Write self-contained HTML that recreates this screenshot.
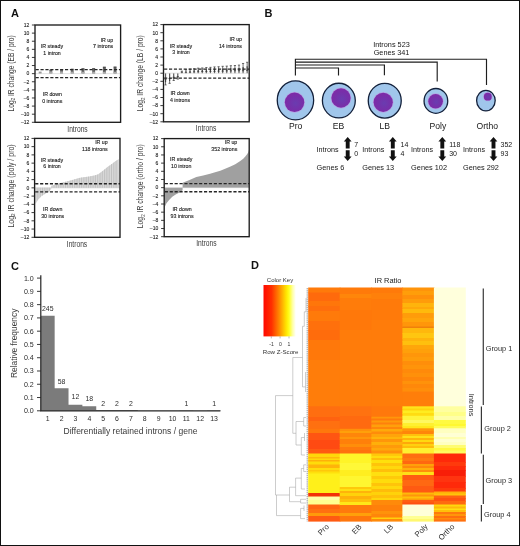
<!DOCTYPE html>
<html><head><meta charset="utf-8"><title>Figure</title>
<style>
html,body{margin:0;padding:0;background:#fff;}
body{width:520px;height:546px;overflow:hidden;font-family:'Liberation Sans', sans-serif;}
svg{display:block;font-family:"Liberation Sans",sans-serif;will-change:transform;}
</style></head><body>
<svg width="520" height="546" viewBox="0 0 520 546">
<rect width="520" height="546" fill="#fff"/>
<rect x="38.70" y="71.62" width="2.9" height="2.03" fill="#9a9a9a"/>
<rect x="49.40" y="69.80" width="2.9" height="3.85" fill="#858585"/>
<rect x="49.40" y="71.83" width="2.9" height="1.82" fill="#a8a8a8"/>
<path d="M49.40 70.29h2.9" stroke="#3c3c3c" stroke-width="0.6" fill="none"/>
<rect x="60.10" y="69.60" width="2.9" height="4.05" fill="#808080"/>
<rect x="60.10" y="71.83" width="2.9" height="1.82" fill="#a8a8a8"/>
<path d="M60.10 70.08h2.9" stroke="#3c3c3c" stroke-width="0.6" fill="none"/>
<rect x="70.80" y="68.79" width="2.9" height="4.86" fill="#6e6e6e"/>
<rect x="70.80" y="71.83" width="2.9" height="1.82" fill="#a8a8a8"/>
<path d="M70.80 69.27h2.9" stroke="#3c3c3c" stroke-width="0.6" fill="none"/>
<rect x="81.50" y="68.30" width="2.9" height="5.35" fill="#666"/>
<rect x="81.50" y="71.83" width="2.9" height="1.82" fill="#a8a8a8"/>
<path d="M81.50 68.79h2.9" stroke="#3c3c3c" stroke-width="0.6" fill="none"/>
<rect x="92.20" y="68.18" width="2.9" height="5.47" fill="#666"/>
<rect x="92.20" y="71.83" width="2.9" height="1.82" fill="#a8a8a8"/>
<path d="M92.20 68.66h2.9" stroke="#3c3c3c" stroke-width="0.6" fill="none"/>
<rect x="102.90" y="66.76" width="2.9" height="6.89" fill="#5e5e5e"/>
<rect x="102.90" y="71.83" width="2.9" height="1.82" fill="#a8a8a8"/>
<path d="M102.90 67.24h2.9" stroke="#3c3c3c" stroke-width="0.6" fill="none"/>
<rect x="113.60" y="66.64" width="2.9" height="7.01" fill="#5e5e5e"/>
<rect x="113.60" y="71.83" width="2.9" height="1.82" fill="#a8a8a8"/>
<path d="M113.60 67.12h2.9" stroke="#3c3c3c" stroke-width="0.6" fill="none"/>
<path d="M35.0 73.65H120.6" stroke="#c4c4c4" stroke-width="0.5"/>
<path d="M35.6 69.60H120.6" stroke="#262626" stroke-width="1.3" stroke-dasharray="3.15 1.75"/>
<path d="M35.6 77.70H120.6" stroke="#262626" stroke-width="1.3" stroke-dasharray="3.15 1.75"/>
<rect x="35.0" y="25.0" width="85.60" height="97.30" fill="none" stroke="#1c1c1c" stroke-width="1.35"/>
<path d="M31.90 122.30H35.0" stroke="#242424" stroke-width="0.9"/>
<text transform="translate(29.40,124.10)" font-size="5.0" text-anchor="end" font-weight="normal" fill="#222" stroke="#222" stroke-width="0.1">–12</text>
<path d="M31.90 114.19H35.0" stroke="#242424" stroke-width="0.9"/>
<text transform="translate(29.40,115.99)" font-size="5.0" text-anchor="end" font-weight="normal" fill="#222" stroke="#222" stroke-width="0.1">–10</text>
<path d="M31.90 106.08H35.0" stroke="#242424" stroke-width="0.9"/>
<text transform="translate(29.40,107.88)" font-size="5.0" text-anchor="end" font-weight="normal" fill="#222" stroke="#222" stroke-width="0.1">–8</text>
<path d="M31.90 97.97H35.0" stroke="#242424" stroke-width="0.9"/>
<text transform="translate(29.40,99.77)" font-size="5.0" text-anchor="end" font-weight="normal" fill="#222" stroke="#222" stroke-width="0.1">–6</text>
<path d="M31.90 89.87H35.0" stroke="#242424" stroke-width="0.9"/>
<text transform="translate(29.40,91.67)" font-size="5.0" text-anchor="end" font-weight="normal" fill="#222" stroke="#222" stroke-width="0.1">–4</text>
<path d="M31.90 81.76H35.0" stroke="#242424" stroke-width="0.9"/>
<text transform="translate(29.40,83.56)" font-size="5.0" text-anchor="end" font-weight="normal" fill="#222" stroke="#222" stroke-width="0.1">–2</text>
<path d="M31.90 73.65H35.0" stroke="#242424" stroke-width="0.9"/>
<text transform="translate(29.40,75.45)" font-size="5.0" text-anchor="end" font-weight="normal" fill="#222" stroke="#222" stroke-width="0.1">0</text>
<path d="M31.90 65.54H35.0" stroke="#242424" stroke-width="0.9"/>
<text transform="translate(29.40,67.34)" font-size="5.0" text-anchor="end" font-weight="normal" fill="#222" stroke="#222" stroke-width="0.1">2</text>
<path d="M31.90 57.43H35.0" stroke="#242424" stroke-width="0.9"/>
<text transform="translate(29.40,59.23)" font-size="5.0" text-anchor="end" font-weight="normal" fill="#222" stroke="#222" stroke-width="0.1">4</text>
<path d="M31.90 49.33H35.0" stroke="#242424" stroke-width="0.9"/>
<text transform="translate(29.40,51.13)" font-size="5.0" text-anchor="end" font-weight="normal" fill="#222" stroke="#222" stroke-width="0.1">6</text>
<path d="M31.90 41.22H35.0" stroke="#242424" stroke-width="0.9"/>
<text transform="translate(29.40,43.02)" font-size="5.0" text-anchor="end" font-weight="normal" fill="#222" stroke="#222" stroke-width="0.1">8</text>
<path d="M31.90 33.11H35.0" stroke="#242424" stroke-width="0.9"/>
<text transform="translate(29.40,34.91)" font-size="5.0" text-anchor="end" font-weight="normal" fill="#222" stroke="#222" stroke-width="0.1">10</text>
<path d="M31.90 25.00H35.0" stroke="#242424" stroke-width="0.9"/>
<text transform="translate(29.40,26.80)" font-size="5.0" text-anchor="end" font-weight="normal" fill="#222" stroke="#222" stroke-width="0.1">12</text>
<text transform="translate(77.50,131.50) scale(0.8177,1)" font-size="8.2" text-anchor="middle" font-weight="normal" fill="#3a3a3a" >Introns</text>
<text transform="translate(113.20,41.50)" font-size="5.25" text-anchor="end" font-weight="normal" fill="#1c1c1c" stroke="#1c1c1c" stroke-width="0.12">IR up</text>
<text transform="translate(113.20,47.90)" font-size="5.25" text-anchor="end" font-weight="normal" fill="#1c1c1c" stroke="#1c1c1c" stroke-width="0.12">7 introns</text>
<text transform="translate(52.00,48.10)" font-size="5.25" text-anchor="middle" font-weight="normal" fill="#1c1c1c" stroke="#1c1c1c" stroke-width="0.12">IR steady</text>
<text transform="translate(52.00,54.60)" font-size="5.25" text-anchor="middle" font-weight="normal" fill="#1c1c1c" stroke="#1c1c1c" stroke-width="0.12">1 intron</text>
<text transform="translate(52.30,96.20)" font-size="5.25" text-anchor="middle" font-weight="normal" fill="#1c1c1c" stroke="#1c1c1c" stroke-width="0.12">IR down</text>
<text transform="translate(52.30,102.60)" font-size="5.25" text-anchor="middle" font-weight="normal" fill="#1c1c1c" stroke="#1c1c1c" stroke-width="0.12">0 introns</text>
<text transform="translate(13.60,111.40) rotate(-90) scale(0.8047,1)" font-size="8.3" text-anchor="start" font-weight="normal" fill="#3a3a3a" >Log<tspan font-size="5.40" dy="1.3">2</tspan><tspan dy="-1.3"> IR change (EB / pro)</tspan></text>
<path d="M165.54 73.20V82.11" stroke="#5a5a5a" stroke-width="1.2" fill="none"/>
<path d="M165.54 79.28V84.95M164.44 79.28h2.2M164.44 84.95h2.2" stroke="#333" stroke-width="0.7" fill="none"/>
<path d="M169.62 73.20V80.89" stroke="#5a5a5a" stroke-width="1.2" fill="none"/>
<path d="M169.62 78.47V83.33M168.52 78.47h2.2M168.52 83.33h2.2" stroke="#333" stroke-width="0.7" fill="none"/>
<path d="M173.70 73.20V78.87" stroke="#5a5a5a" stroke-width="1.2" fill="none"/>
<path d="M173.70 77.25V80.49M172.60 77.25h2.2M172.60 80.49h2.2" stroke="#333" stroke-width="0.7" fill="none"/>
<path d="M177.78 73.20V77.86" stroke="#5a5a5a" stroke-width="1.2" fill="none"/>
<path d="M177.78 76.64V79.07M176.68 76.64h2.2M176.68 79.07h2.2" stroke="#333" stroke-width="0.7" fill="none"/>
<path d="M181.86 73.20V71.78" stroke="#5a5a5a" stroke-width="1.2" fill="none"/>
<path d="M181.86 71.17V72.39M180.76 71.17h2.2M180.76 72.39h2.2" stroke="#333" stroke-width="0.7" fill="none"/>
<path d="M185.95 73.20V71.17" stroke="#5a5a5a" stroke-width="1.2" fill="none"/>
<path d="M185.95 69.76V72.59M184.85 69.76h2.2M184.85 72.59h2.2" stroke="#333" stroke-width="0.7" fill="none"/>
<path d="M190.03 73.20V70.77" stroke="#5a5a5a" stroke-width="1.2" fill="none"/>
<path d="M190.03 69.15V72.39M188.93 69.15h2.2M188.93 72.39h2.2" stroke="#333" stroke-width="0.7" fill="none"/>
<path d="M194.11 73.20V70.37" stroke="#5a5a5a" stroke-width="1.2" fill="none"/>
<path d="M194.11 68.75V71.98M193.01 68.75h2.2M193.01 71.98h2.2" stroke="#333" stroke-width="0.7" fill="none"/>
<path d="M198.19 73.20V69.96" stroke="#5a5a5a" stroke-width="1.2" fill="none"/>
<path d="M198.19 68.14V71.78M197.09 68.14h2.2M197.09 71.78h2.2" stroke="#333" stroke-width="0.7" fill="none"/>
<path d="M202.27 73.20V69.76" stroke="#5a5a5a" stroke-width="1.2" fill="none"/>
<path d="M202.27 67.94V71.58M201.17 67.94h2.2M201.17 71.58h2.2" stroke="#333" stroke-width="0.7" fill="none"/>
<path d="M206.35 73.20V69.56" stroke="#5a5a5a" stroke-width="1.2" fill="none"/>
<path d="M206.35 67.53V71.58M205.25 67.53h2.2M205.25 71.58h2.2" stroke="#333" stroke-width="0.7" fill="none"/>
<path d="M210.43 73.20V69.35" stroke="#5a5a5a" stroke-width="1.2" fill="none"/>
<path d="M210.43 67.33V71.38M209.33 67.33h2.2M209.33 71.38h2.2" stroke="#333" stroke-width="0.7" fill="none"/>
<path d="M214.51 73.20V69.15" stroke="#5a5a5a" stroke-width="1.2" fill="none"/>
<path d="M214.51 66.92V71.38M213.41 66.92h2.2M213.41 71.38h2.2" stroke="#333" stroke-width="0.7" fill="none"/>
<path d="M218.59 73.20V68.95" stroke="#5a5a5a" stroke-width="1.2" fill="none"/>
<path d="M218.59 66.72V71.17M217.49 66.72h2.2M217.49 71.17h2.2" stroke="#333" stroke-width="0.7" fill="none"/>
<path d="M222.67 73.20V68.75" stroke="#5a5a5a" stroke-width="1.2" fill="none"/>
<path d="M222.67 66.31V71.17M221.57 66.31h2.2M221.57 71.17h2.2" stroke="#333" stroke-width="0.7" fill="none"/>
<path d="M226.75 73.20V68.54" stroke="#5a5a5a" stroke-width="1.2" fill="none"/>
<path d="M226.75 66.11V70.97M225.65 66.11h2.2M225.65 70.97h2.2" stroke="#333" stroke-width="0.7" fill="none"/>
<path d="M230.84 73.20V68.34" stroke="#5a5a5a" stroke-width="1.2" fill="none"/>
<path d="M230.84 65.71V70.97M229.74 65.71h2.2M229.74 70.97h2.2" stroke="#333" stroke-width="0.7" fill="none"/>
<path d="M234.92 73.20V68.14" stroke="#5a5a5a" stroke-width="1.2" fill="none"/>
<path d="M234.92 65.51V70.77M233.82 65.51h2.2M233.82 70.77h2.2" stroke="#333" stroke-width="0.7" fill="none"/>
<path d="M239.00 73.20V67.94" stroke="#5a5a5a" stroke-width="1.2" fill="none"/>
<path d="M239.00 65.10V70.77M237.90 65.10h2.2M237.90 70.77h2.2" stroke="#333" stroke-width="0.7" fill="none"/>
<path d="M243.08 73.20V67.12" stroke="#5a5a5a" stroke-width="1.2" fill="none"/>
<path d="M243.08 63.48V70.77M241.98 63.48h2.2M241.98 70.77h2.2" stroke="#333" stroke-width="0.7" fill="none"/>
<path d="M247.16 73.20V66.31" stroke="#5a5a5a" stroke-width="1.2" fill="none"/>
<path d="M247.16 62.27V70.37M246.06 62.27h2.2M246.06 70.37h2.2" stroke="#333" stroke-width="0.7" fill="none"/>
<path d="M163.5 73.20H249.2" stroke="#c4c4c4" stroke-width="0.5"/>
<path d="M164.1 69.15H249.2" stroke="#262626" stroke-width="1.3" stroke-dasharray="3.15 1.75"/>
<path d="M164.1 78.14H249.2" stroke="#262626" stroke-width="1.3" stroke-dasharray="3.15 1.75"/>
<rect x="163.5" y="24.6" width="85.70" height="97.20" fill="none" stroke="#1c1c1c" stroke-width="1.35"/>
<path d="M160.40 121.80H163.5" stroke="#242424" stroke-width="0.9"/>
<text transform="translate(158.00,123.60)" font-size="5.0" text-anchor="end" font-weight="normal" fill="#222" stroke="#222" stroke-width="0.1">–12</text>
<path d="M160.40 113.70H163.5" stroke="#242424" stroke-width="0.9"/>
<text transform="translate(158.00,115.50)" font-size="5.0" text-anchor="end" font-weight="normal" fill="#222" stroke="#222" stroke-width="0.1">–10</text>
<path d="M160.40 105.60H163.5" stroke="#242424" stroke-width="0.9"/>
<text transform="translate(158.00,107.40)" font-size="5.0" text-anchor="end" font-weight="normal" fill="#222" stroke="#222" stroke-width="0.1">–8</text>
<path d="M160.40 97.50H163.5" stroke="#242424" stroke-width="0.9"/>
<text transform="translate(158.00,99.30)" font-size="5.0" text-anchor="end" font-weight="normal" fill="#222" stroke="#222" stroke-width="0.1">–6</text>
<path d="M160.40 89.40H163.5" stroke="#242424" stroke-width="0.9"/>
<text transform="translate(158.00,91.20)" font-size="5.0" text-anchor="end" font-weight="normal" fill="#222" stroke="#222" stroke-width="0.1">–4</text>
<path d="M160.40 81.30H163.5" stroke="#242424" stroke-width="0.9"/>
<text transform="translate(158.00,83.10)" font-size="5.0" text-anchor="end" font-weight="normal" fill="#222" stroke="#222" stroke-width="0.1">–2</text>
<path d="M160.40 73.20H163.5" stroke="#242424" stroke-width="0.9"/>
<text transform="translate(158.00,75.00)" font-size="5.0" text-anchor="end" font-weight="normal" fill="#222" stroke="#222" stroke-width="0.1">0</text>
<path d="M160.40 65.10H163.5" stroke="#242424" stroke-width="0.9"/>
<text transform="translate(158.00,66.90)" font-size="5.0" text-anchor="end" font-weight="normal" fill="#222" stroke="#222" stroke-width="0.1">2</text>
<path d="M160.40 57.00H163.5" stroke="#242424" stroke-width="0.9"/>
<text transform="translate(158.00,58.80)" font-size="5.0" text-anchor="end" font-weight="normal" fill="#222" stroke="#222" stroke-width="0.1">4</text>
<path d="M160.40 48.90H163.5" stroke="#242424" stroke-width="0.9"/>
<text transform="translate(158.00,50.70)" font-size="5.0" text-anchor="end" font-weight="normal" fill="#222" stroke="#222" stroke-width="0.1">6</text>
<path d="M160.40 40.80H163.5" stroke="#242424" stroke-width="0.9"/>
<text transform="translate(158.00,42.60)" font-size="5.0" text-anchor="end" font-weight="normal" fill="#222" stroke="#222" stroke-width="0.1">8</text>
<path d="M160.40 32.70H163.5" stroke="#242424" stroke-width="0.9"/>
<text transform="translate(158.00,34.50)" font-size="5.0" text-anchor="end" font-weight="normal" fill="#222" stroke="#222" stroke-width="0.1">10</text>
<path d="M160.40 24.60H163.5" stroke="#242424" stroke-width="0.9"/>
<text transform="translate(158.00,26.40)" font-size="5.0" text-anchor="end" font-weight="normal" fill="#222" stroke="#222" stroke-width="0.1">12</text>
<text transform="translate(206.05,131.00) scale(0.8177,1)" font-size="8.2" text-anchor="middle" font-weight="normal" fill="#3a3a3a" >Introns</text>
<text transform="translate(242.00,41.40)" font-size="5.25" text-anchor="end" font-weight="normal" fill="#1c1c1c" stroke="#1c1c1c" stroke-width="0.12">IR up</text>
<text transform="translate(242.00,47.90)" font-size="5.25" text-anchor="end" font-weight="normal" fill="#1c1c1c" stroke="#1c1c1c" stroke-width="0.12">14 introns</text>
<text transform="translate(181.00,47.80)" font-size="5.25" text-anchor="middle" font-weight="normal" fill="#1c1c1c" stroke="#1c1c1c" stroke-width="0.12">IR steady</text>
<text transform="translate(181.00,54.20)" font-size="5.25" text-anchor="middle" font-weight="normal" fill="#1c1c1c" stroke="#1c1c1c" stroke-width="0.12">3 intron</text>
<text transform="translate(180.00,95.20)" font-size="5.25" text-anchor="middle" font-weight="normal" fill="#1c1c1c" stroke="#1c1c1c" stroke-width="0.12">IR down</text>
<text transform="translate(180.00,102.00)" font-size="5.25" text-anchor="middle" font-weight="normal" fill="#1c1c1c" stroke="#1c1c1c" stroke-width="0.12">4 introns</text>
<text transform="translate(143.20,111.20) rotate(-90) scale(0.8105,1)" font-size="8.3" text-anchor="start" font-weight="normal" fill="#3a3a3a" >Log<tspan font-size="5.40" dy="1.3">2</tspan><tspan dy="-1.3"> IR change (LB / pro)</tspan></text>
<clipPath id="cp_poly"><path d="M35.62 187.85L35.62 203.72L38.02 199.80L41.60 195.89L46.39 193.00L48.69 191.97L51.00 189.29L51.34 187.85L51.51 185.79L55.95 184.35L60.82 182.91L70.47 180.43L80.03 177.75L89.17 176.52L94.38 175.49L98.31 174.25L102.92 170.75L107.53 167.04L112.06 163.74L115.73 161.06L118.46 159.21L118.63 187.85Z"/></clipPath>
<path d="M35.62 187.85L35.62 203.72L38.02 199.80L41.60 195.89L46.39 193.00L48.69 191.97L51.00 189.29L51.34 187.85L51.51 185.79L55.95 184.35L60.82 182.91L70.47 180.43L80.03 177.75L89.17 176.52L94.38 175.49L98.31 174.25L102.92 170.75L107.53 167.04L112.06 163.74L115.73 161.06L118.46 159.21L118.63 187.85Z" fill="#d8d8d8"/>
<path d="M35.60 154.88V208.45M37.90 154.88V208.45M40.20 154.88V208.45M42.50 154.88V208.45M44.80 154.88V208.45M47.10 154.88V208.45M49.40 154.88V208.45M51.70 154.88V208.45M54.00 154.88V208.45M56.30 154.88V208.45M58.60 154.88V208.45M60.90 154.88V208.45M63.20 154.88V208.45M65.50 154.88V208.45M67.80 154.88V208.45M70.10 154.88V208.45M72.40 154.88V208.45M74.70 154.88V208.45M77.00 154.88V208.45M79.30 154.88V208.45M81.60 154.88V208.45M83.90 154.88V208.45M86.20 154.88V208.45M88.50 154.88V208.45M90.80 154.88V208.45M93.10 154.88V208.45M95.40 154.88V208.45M97.70 154.88V208.45M100.00 154.88V208.45M102.30 154.88V208.45M104.60 154.88V208.45M106.90 154.88V208.45M109.20 154.88V208.45M111.50 154.88V208.45M113.80 154.88V208.45M116.10 154.88V208.45M118.40 154.88V208.45" stroke="#bdbdbd" stroke-width="0.9" fill="none" clip-path="url(#cp_poly)"/>
<path d="M34.6 187.85H120.0" stroke="#c4c4c4" stroke-width="0.5"/>
<path d="M35.2 183.73H120.0" stroke="#262626" stroke-width="1.3" stroke-dasharray="3.15 1.75"/>
<path d="M35.2 191.97H120.0" stroke="#262626" stroke-width="1.3" stroke-dasharray="3.15 1.75"/>
<rect x="34.6" y="138.4" width="85.40" height="98.90" fill="none" stroke="#1c1c1c" stroke-width="1.35"/>
<path d="M31.50 237.30H34.6" stroke="#242424" stroke-width="0.9"/>
<text transform="translate(29.20,239.10)" font-size="5.0" text-anchor="end" font-weight="normal" fill="#222" stroke="#222" stroke-width="0.1">–12</text>
<path d="M31.50 229.06H34.6" stroke="#242424" stroke-width="0.9"/>
<text transform="translate(29.20,230.86)" font-size="5.0" text-anchor="end" font-weight="normal" fill="#222" stroke="#222" stroke-width="0.1">–10</text>
<path d="M31.50 220.82H34.6" stroke="#242424" stroke-width="0.9"/>
<text transform="translate(29.20,222.62)" font-size="5.0" text-anchor="end" font-weight="normal" fill="#222" stroke="#222" stroke-width="0.1">–8</text>
<path d="M31.50 212.58H34.6" stroke="#242424" stroke-width="0.9"/>
<text transform="translate(29.20,214.38)" font-size="5.0" text-anchor="end" font-weight="normal" fill="#222" stroke="#222" stroke-width="0.1">–6</text>
<path d="M31.50 204.33H34.6" stroke="#242424" stroke-width="0.9"/>
<text transform="translate(29.20,206.13)" font-size="5.0" text-anchor="end" font-weight="normal" fill="#222" stroke="#222" stroke-width="0.1">–4</text>
<path d="M31.50 196.09H34.6" stroke="#242424" stroke-width="0.9"/>
<text transform="translate(29.20,197.89)" font-size="5.0" text-anchor="end" font-weight="normal" fill="#222" stroke="#222" stroke-width="0.1">–2</text>
<path d="M31.50 187.85H34.6" stroke="#242424" stroke-width="0.9"/>
<text transform="translate(29.20,189.65)" font-size="5.0" text-anchor="end" font-weight="normal" fill="#222" stroke="#222" stroke-width="0.1">0</text>
<path d="M31.50 179.61H34.6" stroke="#242424" stroke-width="0.9"/>
<text transform="translate(29.20,181.41)" font-size="5.0" text-anchor="end" font-weight="normal" fill="#222" stroke="#222" stroke-width="0.1">2</text>
<path d="M31.50 171.37H34.6" stroke="#242424" stroke-width="0.9"/>
<text transform="translate(29.20,173.17)" font-size="5.0" text-anchor="end" font-weight="normal" fill="#222" stroke="#222" stroke-width="0.1">4</text>
<path d="M31.50 163.13H34.6" stroke="#242424" stroke-width="0.9"/>
<text transform="translate(29.20,164.93)" font-size="5.0" text-anchor="end" font-weight="normal" fill="#222" stroke="#222" stroke-width="0.1">6</text>
<path d="M31.50 154.88H34.6" stroke="#242424" stroke-width="0.9"/>
<text transform="translate(29.20,156.68)" font-size="5.0" text-anchor="end" font-weight="normal" fill="#222" stroke="#222" stroke-width="0.1">8</text>
<path d="M31.50 146.64H34.6" stroke="#242424" stroke-width="0.9"/>
<text transform="translate(29.20,148.44)" font-size="5.0" text-anchor="end" font-weight="normal" fill="#222" stroke="#222" stroke-width="0.1">10</text>
<path d="M31.50 138.40H34.6" stroke="#242424" stroke-width="0.9"/>
<text transform="translate(29.20,140.20)" font-size="5.0" text-anchor="end" font-weight="normal" fill="#222" stroke="#222" stroke-width="0.1">12</text>
<text transform="translate(77.00,246.50) scale(0.8177,1)" font-size="8.2" text-anchor="middle" font-weight="normal" fill="#3a3a3a" >Introns</text>
<text transform="translate(107.70,144.10)" font-size="5.25" text-anchor="end" font-weight="normal" fill="#1c1c1c" stroke="#1c1c1c" stroke-width="0.12">IR up</text>
<text transform="translate(107.70,151.10)" font-size="5.25" text-anchor="end" font-weight="normal" fill="#1c1c1c" stroke="#1c1c1c" stroke-width="0.12">118 introns</text>
<text transform="translate(52.00,161.80)" font-size="5.25" text-anchor="middle" font-weight="normal" fill="#1c1c1c" stroke="#1c1c1c" stroke-width="0.12">IR steady</text>
<text transform="translate(52.00,167.90)" font-size="5.25" text-anchor="middle" font-weight="normal" fill="#1c1c1c" stroke="#1c1c1c" stroke-width="0.12">6 intron</text>
<text transform="translate(52.70,211.20)" font-size="5.25" text-anchor="middle" font-weight="normal" fill="#1c1c1c" stroke="#1c1c1c" stroke-width="0.12">IR down</text>
<text transform="translate(52.70,217.70)" font-size="5.25" text-anchor="middle" font-weight="normal" fill="#1c1c1c" stroke="#1c1c1c" stroke-width="0.12">30 introns</text>
<text transform="translate(13.60,227.60) rotate(-90) scale(0.8437,1)" font-size="8.3" text-anchor="start" font-weight="normal" fill="#3a3a3a" >Log<tspan font-size="5.40" dy="1.3">2</tspan><tspan dy="-1.3"> IR change (poly / pro)</tspan></text>
<path d="M164.54 187.65L164.54 207.47L166.32 203.59L168.88 200.32L172.27 196.85L175.67 194.39L179.50 192.55L181.62 191.74L182.60 190.10L182.64 182.87L189.53 179.88L196.33 177.02L203.21 175.39L210.10 173.75L215.11 172.32L220.30 170.69L225.14 168.85L230.50 166.60L235.26 164.35L240.27 161.08L243.25 158.63L245.29 156.58L247.07 154.34L248.18 152.50L248.94 149.64L248.94 187.65Z" fill="#a0a0a0"/>
<path d="M164.2 187.65H249.2" stroke="#c4c4c4" stroke-width="0.5"/>
<path d="M164.79999999999998 183.56H249.2" stroke="#262626" stroke-width="1.3" stroke-dasharray="3.15 1.75"/>
<path d="M164.79999999999998 191.74H249.2" stroke="#262626" stroke-width="1.3" stroke-dasharray="3.15 1.75"/>
<rect x="164.2" y="138.6" width="85.00" height="98.10" fill="none" stroke="#1c1c1c" stroke-width="1.35"/>
<path d="M161.10 236.70H164.2" stroke="#242424" stroke-width="0.9"/>
<text transform="translate(158.20,238.50)" font-size="5.0" text-anchor="end" font-weight="normal" fill="#222" stroke="#222" stroke-width="0.1">–12</text>
<path d="M161.10 228.52H164.2" stroke="#242424" stroke-width="0.9"/>
<text transform="translate(158.20,230.32)" font-size="5.0" text-anchor="end" font-weight="normal" fill="#222" stroke="#222" stroke-width="0.1">–10</text>
<path d="M161.10 220.35H164.2" stroke="#242424" stroke-width="0.9"/>
<text transform="translate(158.20,222.15)" font-size="5.0" text-anchor="end" font-weight="normal" fill="#222" stroke="#222" stroke-width="0.1">–8</text>
<path d="M161.10 212.17H164.2" stroke="#242424" stroke-width="0.9"/>
<text transform="translate(158.20,213.97)" font-size="5.0" text-anchor="end" font-weight="normal" fill="#222" stroke="#222" stroke-width="0.1">–6</text>
<path d="M161.10 204.00H164.2" stroke="#242424" stroke-width="0.9"/>
<text transform="translate(158.20,205.80)" font-size="5.0" text-anchor="end" font-weight="normal" fill="#222" stroke="#222" stroke-width="0.1">–4</text>
<path d="M161.10 195.82H164.2" stroke="#242424" stroke-width="0.9"/>
<text transform="translate(158.20,197.62)" font-size="5.0" text-anchor="end" font-weight="normal" fill="#222" stroke="#222" stroke-width="0.1">–2</text>
<path d="M161.10 187.65H164.2" stroke="#242424" stroke-width="0.9"/>
<text transform="translate(158.20,189.45)" font-size="5.0" text-anchor="end" font-weight="normal" fill="#222" stroke="#222" stroke-width="0.1">0</text>
<path d="M161.10 179.47H164.2" stroke="#242424" stroke-width="0.9"/>
<text transform="translate(158.20,181.27)" font-size="5.0" text-anchor="end" font-weight="normal" fill="#222" stroke="#222" stroke-width="0.1">2</text>
<path d="M161.10 171.30H164.2" stroke="#242424" stroke-width="0.9"/>
<text transform="translate(158.20,173.10)" font-size="5.0" text-anchor="end" font-weight="normal" fill="#222" stroke="#222" stroke-width="0.1">4</text>
<path d="M161.10 163.12H164.2" stroke="#242424" stroke-width="0.9"/>
<text transform="translate(158.20,164.92)" font-size="5.0" text-anchor="end" font-weight="normal" fill="#222" stroke="#222" stroke-width="0.1">6</text>
<path d="M161.10 154.95H164.2" stroke="#242424" stroke-width="0.9"/>
<text transform="translate(158.20,156.75)" font-size="5.0" text-anchor="end" font-weight="normal" fill="#222" stroke="#222" stroke-width="0.1">8</text>
<path d="M161.10 146.77H164.2" stroke="#242424" stroke-width="0.9"/>
<text transform="translate(158.20,148.57)" font-size="5.0" text-anchor="end" font-weight="normal" fill="#222" stroke="#222" stroke-width="0.1">10</text>
<path d="M161.10 138.60H164.2" stroke="#242424" stroke-width="0.9"/>
<text transform="translate(158.20,140.40)" font-size="5.0" text-anchor="end" font-weight="normal" fill="#222" stroke="#222" stroke-width="0.1">12</text>
<text transform="translate(206.40,245.90) scale(0.8177,1)" font-size="8.2" text-anchor="middle" font-weight="normal" fill="#3a3a3a" >Introns</text>
<text transform="translate(237.30,144.10)" font-size="5.25" text-anchor="end" font-weight="normal" fill="#1c1c1c" stroke="#1c1c1c" stroke-width="0.12">IR up</text>
<text transform="translate(237.30,151.10)" font-size="5.25" text-anchor="end" font-weight="normal" fill="#1c1c1c" stroke="#1c1c1c" stroke-width="0.12">352 introns</text>
<text transform="translate(181.20,161.40)" font-size="5.25" text-anchor="middle" font-weight="normal" fill="#1c1c1c" stroke="#1c1c1c" stroke-width="0.12">IR steady</text>
<text transform="translate(181.20,167.90)" font-size="5.25" text-anchor="middle" font-weight="normal" fill="#1c1c1c" stroke="#1c1c1c" stroke-width="0.12">10 intron</text>
<text transform="translate(182.00,211.00)" font-size="5.25" text-anchor="middle" font-weight="normal" fill="#1c1c1c" stroke="#1c1c1c" stroke-width="0.12">IR down</text>
<text transform="translate(182.00,217.70)" font-size="5.25" text-anchor="middle" font-weight="normal" fill="#1c1c1c" stroke="#1c1c1c" stroke-width="0.12">93 introns</text>
<text transform="translate(143.30,228.20) rotate(-90) scale(0.8192,1)" font-size="8.3" text-anchor="start" font-weight="normal" fill="#3a3a3a" >Log<tspan font-size="5.40" dy="1.3">2</tspan><tspan dy="-1.3"> IR change (ortho / pro)</tspan></text>
<text transform="translate(11.00,16.70)" font-size="11" text-anchor="start" font-weight="bold" fill="#111" >A</text>
<text transform="translate(264.60,16.50)" font-size="11" text-anchor="start" font-weight="bold" fill="#111" >B</text>
<text transform="translate(11.00,269.80)" font-size="11" text-anchor="start" font-weight="bold" fill="#111" >C</text>
<text transform="translate(250.90,269.40)" font-size="11" text-anchor="start" font-weight="bold" fill="#111" >D</text>
<g stroke="#1e1e1e" stroke-width="1.15" fill="none">
<path d="M295.4 75.6V59.2H486.5V84.9"/>
<path d="M295.4 62.1H437.2V81.5"/>
<path d="M295.4 65.0H384.4V75.2"/>
<path d="M295.4 68.0H338.5V75.6"/>
</g>
<text transform="translate(391.50,46.80)" font-size="7.3" text-anchor="middle" font-weight="normal" fill="#161616" >Introns 523</text>
<text transform="translate(391.50,55.40)" font-size="7.3" text-anchor="middle" font-weight="normal" fill="#161616" >Genes 341</text>
<defs><radialGradient id="nuc" cx="0.55" cy="0.55" r="0.6"><stop offset="0" stop-color="#6a3cb0"/><stop offset="0.55" stop-color="#7630aa"/><stop offset="1" stop-color="#8029a6"/></radialGradient></defs>
<ellipse cx="295.45" cy="100.3" rx="18.2" ry="19.5" fill="#a0c6eb" stroke="#13203a" stroke-width="1.3"/>
<circle cx="294.55" cy="102.3" r="10.45" fill="#b3a2e2"/>
<circle cx="294.55" cy="102.3" r="9.7" fill="url(#nuc)"/>
<ellipse cx="338.85" cy="100.6" rx="16.45" ry="17.35" fill="#a0c6eb" stroke="#13203a" stroke-width="1.3"/>
<circle cx="341.0" cy="98.0" r="10.4" fill="#b3a2e2"/>
<circle cx="341.0" cy="98.0" r="9.65" fill="url(#nuc)"/>
<ellipse cx="384.75" cy="100.7" rx="16.5" ry="17.4" fill="#a0c6eb" stroke="#13203a" stroke-width="1.3"/>
<circle cx="383.2" cy="102.3" r="10.35" fill="#b3a2e2"/>
<circle cx="383.2" cy="102.3" r="9.6" fill="url(#nuc)"/>
<ellipse cx="435.9" cy="100.9" rx="11.85" ry="12.4" fill="#a0c6eb" stroke="#13203a" stroke-width="1.3"/>
<circle cx="435.6" cy="101.3" r="8.05" fill="#b3a2e2"/>
<circle cx="435.6" cy="101.3" r="7.3" fill="url(#nuc)"/>
<ellipse cx="485.9" cy="100.6" rx="9.3" ry="10.3" fill="#a0c6eb" stroke="#13203a" stroke-width="1.3"/>
<circle cx="487.8" cy="96.65" r="4.7" fill="#b3a2e2"/>
<circle cx="487.8" cy="96.65" r="3.95" fill="url(#nuc)"/>
<text transform="translate(295.60,128.80)" font-size="8.6" text-anchor="middle" font-weight="normal" fill="#161616" >Pro</text>
<text transform="translate(338.50,128.80)" font-size="8.6" text-anchor="middle" font-weight="normal" fill="#161616" >EB</text>
<text transform="translate(384.70,128.80)" font-size="8.6" text-anchor="middle" font-weight="normal" fill="#161616" >LB</text>
<text transform="translate(437.90,128.80)" font-size="8.6" text-anchor="middle" font-weight="normal" fill="#161616" >Poly</text>
<text transform="translate(487.20,128.80)" font-size="8.6" text-anchor="middle" font-weight="normal" fill="#161616" >Ortho</text>
<text transform="translate(316.50,152.00)" font-size="7.2" text-anchor="start" font-weight="normal" fill="#161616" >Introns</text>
<path d="M347.7 136.9l3.9 4.7h-1.95v6.8h-3.9v-6.8h-1.95z" fill="#111"/>
<path d="M347.7 161.1l3.9 -4.7h-1.95v-6.2h-3.9v6.2h-1.95z" fill="#111"/>
<text transform="translate(354.20,147.40)" font-size="7.0" text-anchor="start" font-weight="normal" fill="#161616" >7</text>
<text transform="translate(354.20,156.10)" font-size="7.0" text-anchor="start" font-weight="normal" fill="#161616" >0</text>
<text transform="translate(316.50,170.10)" font-size="7.35" text-anchor="start" font-weight="normal" fill="#161616" >Genes 6</text>
<text transform="translate(362.30,152.00)" font-size="7.2" text-anchor="start" font-weight="normal" fill="#161616" >Introns</text>
<path d="M392.8 136.9l3.9 4.7h-1.95v6.8h-3.9v-6.8h-1.95z" fill="#111"/>
<path d="M392.8 161.1l3.9 -4.7h-1.95v-6.2h-3.9v6.2h-1.95z" fill="#111"/>
<text transform="translate(400.60,147.40)" font-size="7.0" text-anchor="start" font-weight="normal" fill="#161616" >14</text>
<text transform="translate(400.60,156.10)" font-size="7.0" text-anchor="start" font-weight="normal" fill="#161616" >4</text>
<text transform="translate(362.30,170.10)" font-size="7.35" text-anchor="start" font-weight="normal" fill="#161616" >Genes 13</text>
<text transform="translate(411.10,152.00)" font-size="7.2" text-anchor="start" font-weight="normal" fill="#161616" >Introns</text>
<path d="M442.3 136.9l3.9 4.7h-1.95v6.8h-3.9v-6.8h-1.95z" fill="#111"/>
<path d="M442.3 161.1l3.9 -4.7h-1.95v-6.2h-3.9v6.2h-1.95z" fill="#111"/>
<text transform="translate(449.20,147.40)" font-size="7.0" text-anchor="start" font-weight="normal" fill="#161616" >118</text>
<text transform="translate(449.20,156.10)" font-size="7.0" text-anchor="start" font-weight="normal" fill="#161616" >30</text>
<text transform="translate(411.10,170.10)" font-size="7.35" text-anchor="start" font-weight="normal" fill="#161616" >Genes 102</text>
<text transform="translate(463.00,152.00)" font-size="7.2" text-anchor="start" font-weight="normal" fill="#161616" >Introns</text>
<path d="M493.5 136.9l3.9 4.7h-1.95v6.8h-3.9v-6.8h-1.95z" fill="#111"/>
<path d="M493.5 161.1l3.9 -4.7h-1.95v-6.2h-3.9v6.2h-1.95z" fill="#111"/>
<text transform="translate(500.50,147.40)" font-size="7.0" text-anchor="start" font-weight="normal" fill="#161616" >352</text>
<text transform="translate(500.50,156.10)" font-size="7.0" text-anchor="start" font-weight="normal" fill="#161616" >93</text>
<text transform="translate(463.00,170.10)" font-size="7.35" text-anchor="start" font-weight="normal" fill="#161616" >Genes 292</text>
<path d="M40.8 410.8V315.79H54.66V388.24H68.52V404.70H82.38V406.16H96.24V410.00H110.10V410.00H123.96V410.00H137.82V410.80H151.68V410.80H165.54V410.80H179.40V410.40H193.26V410.80H207.12V410.40H220.98V410.8Z" fill="#7b7b7b"/>
<text transform="translate(47.73,310.90)" font-size="6.9" text-anchor="middle" font-weight="normal" fill="#2c2c2c" >245</text>
<text transform="translate(47.73,421.40)" font-size="6.9" text-anchor="middle" font-weight="normal" fill="#2c2c2c" >1</text>
<text transform="translate(61.59,384.00)" font-size="6.9" text-anchor="middle" font-weight="normal" fill="#2c2c2c" >58</text>
<text transform="translate(61.59,421.40)" font-size="6.9" text-anchor="middle" font-weight="normal" fill="#2c2c2c" >2</text>
<text transform="translate(75.45,398.60)" font-size="6.9" text-anchor="middle" font-weight="normal" fill="#2c2c2c" >12</text>
<text transform="translate(75.45,421.40)" font-size="6.9" text-anchor="middle" font-weight="normal" fill="#2c2c2c" >3</text>
<text transform="translate(89.31,400.70)" font-size="6.9" text-anchor="middle" font-weight="normal" fill="#2c2c2c" >18</text>
<text transform="translate(89.31,421.40)" font-size="6.9" text-anchor="middle" font-weight="normal" fill="#2c2c2c" >4</text>
<text transform="translate(103.17,405.80)" font-size="6.9" text-anchor="middle" font-weight="normal" fill="#2c2c2c" >2</text>
<text transform="translate(103.17,421.40)" font-size="6.9" text-anchor="middle" font-weight="normal" fill="#2c2c2c" >5</text>
<text transform="translate(117.03,405.80)" font-size="6.9" text-anchor="middle" font-weight="normal" fill="#2c2c2c" >2</text>
<text transform="translate(117.03,421.40)" font-size="6.9" text-anchor="middle" font-weight="normal" fill="#2c2c2c" >6</text>
<text transform="translate(130.89,405.80)" font-size="6.9" text-anchor="middle" font-weight="normal" fill="#2c2c2c" >2</text>
<text transform="translate(130.89,421.40)" font-size="6.9" text-anchor="middle" font-weight="normal" fill="#2c2c2c" >7</text>
<text transform="translate(144.75,421.40)" font-size="6.9" text-anchor="middle" font-weight="normal" fill="#2c2c2c" >8</text>
<text transform="translate(158.61,421.40)" font-size="6.9" text-anchor="middle" font-weight="normal" fill="#2c2c2c" >9</text>
<text transform="translate(172.47,421.40)" font-size="6.9" text-anchor="middle" font-weight="normal" fill="#2c2c2c" >10</text>
<text transform="translate(186.33,405.80)" font-size="6.9" text-anchor="middle" font-weight="normal" fill="#2c2c2c" >1</text>
<text transform="translate(186.33,421.40)" font-size="6.9" text-anchor="middle" font-weight="normal" fill="#2c2c2c" >11</text>
<text transform="translate(200.19,421.40)" font-size="6.9" text-anchor="middle" font-weight="normal" fill="#2c2c2c" >12</text>
<text transform="translate(214.05,405.80)" font-size="6.9" text-anchor="middle" font-weight="normal" fill="#2c2c2c" >1</text>
<text transform="translate(214.05,421.40)" font-size="6.9" text-anchor="middle" font-weight="normal" fill="#2c2c2c" >13</text>
<path d="M40.8 275.2V410.8H220.4" stroke="#242424" stroke-width="1.2" fill="none"/>
<path d="M37.0 410.80H40.8" stroke="#242424" stroke-width="0.9"/>
<text transform="translate(33.80,413.30)" font-size="7.1" text-anchor="end" font-weight="normal" fill="#2c2c2c" >0.0</text>
<path d="M37.0 397.53H40.8" stroke="#242424" stroke-width="0.9"/>
<text transform="translate(33.80,400.03)" font-size="7.1" text-anchor="end" font-weight="normal" fill="#2c2c2c" >0.1</text>
<path d="M37.0 384.26H40.8" stroke="#242424" stroke-width="0.9"/>
<text transform="translate(33.80,386.76)" font-size="7.1" text-anchor="end" font-weight="normal" fill="#2c2c2c" >0.2</text>
<path d="M37.0 370.99H40.8" stroke="#242424" stroke-width="0.9"/>
<text transform="translate(33.80,373.49)" font-size="7.1" text-anchor="end" font-weight="normal" fill="#2c2c2c" >0.3</text>
<path d="M37.0 357.72H40.8" stroke="#242424" stroke-width="0.9"/>
<text transform="translate(33.80,360.22)" font-size="7.1" text-anchor="end" font-weight="normal" fill="#2c2c2c" >0.4</text>
<path d="M37.0 344.45H40.8" stroke="#242424" stroke-width="0.9"/>
<text transform="translate(33.80,346.95)" font-size="7.1" text-anchor="end" font-weight="normal" fill="#2c2c2c" >0.5</text>
<path d="M37.0 331.18H40.8" stroke="#242424" stroke-width="0.9"/>
<text transform="translate(33.80,333.68)" font-size="7.1" text-anchor="end" font-weight="normal" fill="#2c2c2c" >0.6</text>
<path d="M37.0 317.91H40.8" stroke="#242424" stroke-width="0.9"/>
<text transform="translate(33.80,320.41)" font-size="7.1" text-anchor="end" font-weight="normal" fill="#2c2c2c" >0.7</text>
<path d="M37.0 304.64H40.8" stroke="#242424" stroke-width="0.9"/>
<text transform="translate(33.80,307.14)" font-size="7.1" text-anchor="end" font-weight="normal" fill="#2c2c2c" >0.8</text>
<path d="M37.0 291.37H40.8" stroke="#242424" stroke-width="0.9"/>
<text transform="translate(33.80,293.87)" font-size="7.1" text-anchor="end" font-weight="normal" fill="#2c2c2c" >0.9</text>
<path d="M37.0 278.10H40.8" stroke="#242424" stroke-width="0.9"/>
<text transform="translate(33.80,280.60)" font-size="7.1" text-anchor="end" font-weight="normal" fill="#2c2c2c" >1.0</text>
<text transform="translate(16.60,378.00) rotate(-90) scale(0.8927,1)" font-size="9.4" text-anchor="start" font-weight="normal" fill="#3a3a3a" >Relative frequency</text>
<text transform="translate(63.50,434.20) scale(0.9072,1)" font-size="9.4" text-anchor="start" font-weight="normal" fill="#3a3a3a" >Differentially retained introns / gene</text>
<defs><linearGradient id="ck" x1="0" x2="1" y1="0" y2="0"><stop offset="0" stop-color="#ff0800"/><stop offset="0.25" stop-color="#ff3000"/><stop offset="0.5" stop-color="#ff9000"/><stop offset="0.7" stop-color="#ffe400"/><stop offset="0.79" stop-color="#ffff1e"/><stop offset="0.9" stop-color="#ffffa8"/><stop offset="1" stop-color="#ffffff"/></linearGradient></defs>
<rect x="263.5" y="285" width="32.4" height="51.4" fill="url(#ck)"/>
<text transform="translate(280.00,281.80)" font-size="6.0" text-anchor="middle" font-weight="normal" fill="#333" >Color Key</text>
<text transform="translate(271.50,346.40)" font-size="5.1" text-anchor="middle" font-weight="normal" fill="#333" >-1</text>
<text transform="translate(280.30,346.40)" font-size="5.1" text-anchor="middle" font-weight="normal" fill="#333" >0</text>
<text transform="translate(288.80,346.40)" font-size="5.1" text-anchor="middle" font-weight="normal" fill="#333" >1</text>
<path d="M271.3 336.4v2M280.1 336.4v2M289 336.4v2" stroke="#777" stroke-width="0.5"/>
<text transform="translate(280.60,353.80)" font-size="6.15" text-anchor="middle" font-weight="normal" fill="#333" >Row Z-Score</text>
<text transform="translate(374.60,282.50)" font-size="7.45" text-anchor="start" font-weight="normal" fill="#1c1c1c" >IR Ratio</text>
<rect x="308.2" y="287.5" width="32.20" height="5.70" fill="#ff7a0a"/>
<rect x="308.2" y="292.5" width="32.20" height="9.20" fill="#ff6a0c"/>
<rect x="308.2" y="301" width="32.20" height="5.70" fill="#ff760a"/>
<rect x="308.2" y="306" width="32.20" height="5.70" fill="#ff6e0c"/>
<rect x="308.2" y="311" width="32.20" height="10.70" fill="#ff7a0a"/>
<rect x="308.2" y="321" width="32.20" height="9.70" fill="#ff700c"/>
<rect x="308.2" y="330" width="32.20" height="10.70" fill="#ff6c0c"/>
<rect x="308.2" y="340" width="32.20" height="20.70" fill="#ff780a"/>
<rect x="308.2" y="360" width="32.20" height="47.00" fill="#ff7d0a"/>
<rect x="308.2" y="406.3" width="32.20" height="11.40" fill="#ff6e10"/>
<rect x="308.2" y="417" width="32.20" height="4.70" fill="#ff6210"/>
<rect x="308.2" y="421" width="32.20" height="8.50" fill="#ff7010"/>
<rect x="308.2" y="428.8" width="32.20" height="4.90" fill="#ff780c"/>
<rect x="308.2" y="433" width="32.20" height="7.70" fill="#ff5512"/>
<rect x="308.2" y="440" width="32.20" height="9.70" fill="#ff4a12"/>
<rect x="308.2" y="449" width="32.20" height="5.20" fill="#ff5a12"/>
<rect x="308.2" y="453.5" width="32.20" height="4.20" fill="#ffd70a"/>
<rect x="308.2" y="457" width="32.20" height="2.20" fill="#ffb80a"/>
<rect x="308.2" y="458.5" width="32.20" height="2.20" fill="#ffd80a"/>
<rect x="308.2" y="460" width="32.20" height="2.20" fill="#ffb00a"/>
<rect x="308.2" y="461.5" width="32.20" height="3.70" fill="#ffdc0a"/>
<rect x="308.2" y="464.5" width="32.20" height="4.20" fill="#ffb40a"/>
<rect x="308.2" y="468" width="32.20" height="2.70" fill="#ffdc0c"/>
<rect x="308.2" y="470" width="32.20" height="2.20" fill="#ffc80a"/>
<rect x="308.2" y="471.5" width="32.20" height="2.70" fill="#ffe00c"/>
<rect x="308.2" y="473.5" width="32.20" height="20.20" fill="#fff01a"/>
<rect x="308.2" y="493" width="32.20" height="4.20" fill="#f23208"/>
<rect x="308.2" y="496.5" width="32.20" height="4.20" fill="#ffffa8"/>
<rect x="308.2" y="500" width="32.20" height="5.20" fill="#ffff90"/>
<rect x="308.2" y="504.5" width="32.20" height="5.20" fill="#ff6410"/>
<rect x="308.2" y="509" width="32.20" height="4.70" fill="#ff7010"/>
<rect x="308.2" y="513" width="32.20" height="3.70" fill="#ff9a0a"/>
<rect x="308.2" y="516" width="32.20" height="5.60" fill="#ff5a12"/>
<rect x="339.7" y="287.5" width="32.40" height="7.20" fill="#ff7a0a"/>
<rect x="339.7" y="294" width="32.40" height="4.70" fill="#ff860a"/>
<rect x="339.7" y="298" width="32.40" height="12.70" fill="#ff7c0a"/>
<rect x="339.7" y="310" width="32.40" height="20.70" fill="#ff780a"/>
<rect x="339.7" y="330" width="32.40" height="30.70" fill="#ff7c0a"/>
<rect x="339.7" y="360" width="32.40" height="47.00" fill="#ff7d0a"/>
<rect x="339.7" y="406.3" width="32.40" height="10.40" fill="#ff7210"/>
<rect x="339.7" y="416" width="32.40" height="13.50" fill="#ff6a10"/>
<rect x="339.7" y="428.8" width="32.40" height="2.90" fill="#ff900a"/>
<rect x="339.7" y="431" width="32.40" height="2.70" fill="#ffa00a"/>
<rect x="339.7" y="433" width="32.40" height="4.70" fill="#ff860a"/>
<rect x="339.7" y="437" width="32.40" height="2.70" fill="#ff960a"/>
<rect x="339.7" y="439" width="32.40" height="5.70" fill="#ff800a"/>
<rect x="339.7" y="444" width="32.40" height="3.70" fill="#ff8e0a"/>
<rect x="339.7" y="447" width="32.40" height="3.70" fill="#ff7a0c"/>
<rect x="339.7" y="450" width="32.40" height="4.20" fill="#ff700e"/>
<rect x="339.7" y="453.5" width="32.40" height="10.20" fill="#fff428"/>
<rect x="339.7" y="463" width="32.40" height="7.70" fill="#fff838"/>
<rect x="339.7" y="470" width="32.40" height="6.70" fill="#ffee20"/>
<rect x="339.7" y="476" width="32.40" height="11.70" fill="#fff630"/>
<rect x="339.7" y="487" width="32.40" height="2.70" fill="#ffc80a"/>
<rect x="339.7" y="489" width="32.40" height="2.70" fill="#ffe010"/>
<rect x="339.7" y="491" width="32.40" height="2.70" fill="#ffb40a"/>
<rect x="339.7" y="493" width="32.40" height="3.70" fill="#ffd20a"/>
<rect x="339.7" y="496" width="32.40" height="3.70" fill="#ffb00a"/>
<rect x="339.7" y="499" width="32.40" height="3.70" fill="#ffc00a"/>
<rect x="339.7" y="502" width="32.40" height="3.70" fill="#ffe818"/>
<rect x="339.7" y="505" width="32.40" height="8.70" fill="#ff7a0c"/>
<rect x="339.7" y="513" width="32.40" height="3.70" fill="#ffa00a"/>
<rect x="339.7" y="516" width="32.40" height="5.60" fill="#ff760c"/>
<rect x="371.4" y="287.5" width="31.70" height="6.20" fill="#ff7a0a"/>
<rect x="371.4" y="293" width="31.70" height="6.70" fill="#ff800a"/>
<rect x="371.4" y="299" width="31.70" height="21.70" fill="#ff7a0a"/>
<rect x="371.4" y="320" width="31.70" height="40.70" fill="#ff7c0a"/>
<rect x="371.4" y="360" width="31.70" height="47.00" fill="#ff7d0a"/>
<rect x="371.4" y="406.3" width="31.70" height="11.10" fill="#ff780c"/>
<rect x="371.4" y="416.7" width="31.70" height="2.50" fill="#ff960a"/>
<rect x="371.4" y="418.5" width="31.70" height="2.70" fill="#ff7a0c"/>
<rect x="371.4" y="420.5" width="31.70" height="2.70" fill="#ff9a0a"/>
<rect x="371.4" y="422.5" width="31.70" height="2.70" fill="#ff800c"/>
<rect x="371.4" y="424.5" width="31.70" height="3.20" fill="#ffa00a"/>
<rect x="371.4" y="427" width="31.70" height="2.70" fill="#ff860a"/>
<rect x="371.4" y="429" width="31.70" height="3.20" fill="#ffaa0a"/>
<rect x="371.4" y="431.5" width="31.70" height="3.20" fill="#ff8c0a"/>
<rect x="371.4" y="434" width="31.70" height="3.70" fill="#ffa40a"/>
<rect x="371.4" y="437" width="31.70" height="2.70" fill="#ffb40a"/>
<rect x="371.4" y="439" width="31.70" height="3.70" fill="#ff960a"/>
<rect x="371.4" y="442" width="31.70" height="3.70" fill="#ffb00a"/>
<rect x="371.4" y="445" width="31.70" height="3.70" fill="#ff9a0a"/>
<rect x="371.4" y="448" width="31.70" height="3.20" fill="#ffa80a"/>
<rect x="371.4" y="450.5" width="31.70" height="3.70" fill="#ff900a"/>
<rect x="371.4" y="453.5" width="31.70" height="3.20" fill="#ffc80a"/>
<rect x="371.4" y="456" width="31.70" height="2.70" fill="#ffdc0c"/>
<rect x="371.4" y="458" width="31.70" height="2.70" fill="#ffbe0a"/>
<rect x="371.4" y="460" width="31.70" height="3.70" fill="#ffe00c"/>
<rect x="371.4" y="463" width="31.70" height="3.70" fill="#ffc40a"/>
<rect x="371.4" y="466" width="31.70" height="3.70" fill="#ffd80c"/>
<rect x="371.4" y="469" width="31.70" height="3.70" fill="#ffc00a"/>
<rect x="371.4" y="472" width="31.70" height="4.70" fill="#ffe010"/>
<rect x="371.4" y="476" width="31.70" height="3.70" fill="#ffca0a"/>
<rect x="371.4" y="479" width="31.70" height="4.70" fill="#ffdc0c"/>
<rect x="371.4" y="483" width="31.70" height="3.70" fill="#ffc40a"/>
<rect x="371.4" y="486" width="31.70" height="3.70" fill="#ffd80c"/>
<rect x="371.4" y="489" width="31.70" height="3.70" fill="#ffbc0a"/>
<rect x="371.4" y="492" width="31.70" height="3.70" fill="#ffd20a"/>
<rect x="371.4" y="495" width="31.70" height="3.70" fill="#ffc00a"/>
<rect x="371.4" y="498" width="31.70" height="2.70" fill="#ffd60c"/>
<rect x="371.4" y="500" width="31.70" height="5.70" fill="#ff8a0a"/>
<rect x="371.4" y="505" width="31.70" height="6.70" fill="#ff800a"/>
<rect x="371.4" y="511" width="31.70" height="3.70" fill="#ff920a"/>
<rect x="371.4" y="514" width="31.70" height="4.20" fill="#ff860a"/>
<rect x="371.4" y="517.5" width="31.70" height="2.20" fill="#ffd00c"/>
<rect x="371.4" y="519" width="31.70" height="2.60" fill="#ff8a0a"/>
<rect x="402.4" y="287.5" width="32.20" height="4.20" fill="#ff940a"/>
<rect x="402.4" y="291" width="32.20" height="4.70" fill="#ff9e0a"/>
<rect x="402.4" y="295" width="32.20" height="4.70" fill="#ff900a"/>
<rect x="402.4" y="299" width="32.20" height="4.70" fill="#ff9c0a"/>
<rect x="402.4" y="303" width="32.20" height="4.70" fill="#ffb40c"/>
<rect x="402.4" y="307" width="32.20" height="2.70" fill="#ffa80a"/>
<rect x="402.4" y="309" width="32.20" height="4.70" fill="#ffba0c"/>
<rect x="402.4" y="313" width="32.20" height="5.70" fill="#ff9c0a"/>
<rect x="402.4" y="318" width="32.20" height="4.70" fill="#ffa40a"/>
<rect x="402.4" y="322" width="32.20" height="5.20" fill="#ff960a"/>
<rect x="402.4" y="326.5" width="32.20" height="2.20" fill="#f0800a"/>
<rect x="402.4" y="328" width="32.20" height="5.70" fill="#ffb80c"/>
<rect x="402.4" y="333" width="32.20" height="5.70" fill="#ffc610"/>
<rect x="402.4" y="338" width="32.20" height="3.70" fill="#ffb40c"/>
<rect x="402.4" y="341" width="32.20" height="4.70" fill="#ffc00e"/>
<rect x="402.4" y="345" width="32.20" height="4.70" fill="#ffa60a"/>
<rect x="402.4" y="349" width="32.20" height="4.70" fill="#ffa00a"/>
<rect x="402.4" y="353" width="32.20" height="4.70" fill="#ff960a"/>
<rect x="402.4" y="357" width="32.20" height="4.70" fill="#ff9c0a"/>
<rect x="402.4" y="361" width="32.20" height="4.70" fill="#ff8e0a"/>
<rect x="402.4" y="365" width="32.20" height="4.70" fill="#ff940a"/>
<rect x="402.4" y="369" width="32.20" height="4.70" fill="#ff8a0a"/>
<rect x="402.4" y="373" width="32.20" height="4.70" fill="#ff900a"/>
<rect x="402.4" y="377" width="32.20" height="4.70" fill="#ff860a"/>
<rect x="402.4" y="381" width="32.20" height="3.70" fill="#ff920a"/>
<rect x="402.4" y="384" width="32.20" height="4.70" fill="#ff880a"/>
<rect x="402.4" y="388" width="32.20" height="4.30" fill="#ff8e0a"/>
<rect x="402.4" y="391.6" width="32.20" height="15.40" fill="#ff7e0a"/>
<rect x="402.4" y="406.3" width="32.20" height="2.90" fill="#ffe41a"/>
<rect x="402.4" y="408.5" width="32.20" height="2.70" fill="#ffd40e"/>
<rect x="402.4" y="410.5" width="32.20" height="3.20" fill="#ffec20"/>
<rect x="402.4" y="413" width="32.20" height="3.50" fill="#ffdc12"/>
<rect x="402.4" y="415.8" width="32.20" height="4.90" fill="#fff43c"/>
<rect x="402.4" y="420" width="32.20" height="3.70" fill="#fff860"/>
<rect x="402.4" y="423" width="32.20" height="3.70" fill="#fff030"/>
<rect x="402.4" y="426" width="32.20" height="3.00" fill="#ffe81c"/>
<rect x="402.4" y="428.3" width="32.20" height="3.40" fill="#ff960a"/>
<rect x="402.4" y="431" width="32.20" height="3.70" fill="#ff860a"/>
<rect x="402.4" y="434" width="32.20" height="2.70" fill="#ffc00c"/>
<rect x="402.4" y="436" width="32.20" height="2.70" fill="#ffe018"/>
<rect x="402.4" y="438" width="32.20" height="2.70" fill="#ffb40a"/>
<rect x="402.4" y="440" width="32.20" height="2.70" fill="#ffd810"/>
<rect x="402.4" y="442" width="32.20" height="2.70" fill="#ffa80a"/>
<rect x="402.4" y="444" width="32.20" height="2.70" fill="#ffd00e"/>
<rect x="402.4" y="446" width="32.20" height="2.70" fill="#ffbc0a"/>
<rect x="402.4" y="448" width="32.20" height="6.20" fill="#fff030"/>
<rect x="402.4" y="453.5" width="32.20" height="5.20" fill="#ff6e10"/>
<rect x="402.4" y="458" width="32.20" height="3.70" fill="#ff7810"/>
<rect x="402.4" y="461" width="32.20" height="3.70" fill="#ff6810"/>
<rect x="402.4" y="464" width="32.20" height="2.70" fill="#ffa00a"/>
<rect x="402.4" y="466" width="32.20" height="2.70" fill="#ff8a0a"/>
<rect x="402.4" y="468" width="32.20" height="2.70" fill="#ffb00a"/>
<rect x="402.4" y="470" width="32.20" height="2.70" fill="#ff900a"/>
<rect x="402.4" y="472" width="32.20" height="3.70" fill="#ffe018"/>
<rect x="402.4" y="475" width="32.20" height="5.70" fill="#ff5c12"/>
<rect x="402.4" y="480" width="32.20" height="6.70" fill="#ff6812"/>
<rect x="402.4" y="486" width="32.20" height="7.20" fill="#ff5a12"/>
<rect x="402.4" y="492.5" width="32.20" height="2.70" fill="#ffb80a"/>
<rect x="402.4" y="494.5" width="32.20" height="2.70" fill="#ff960a"/>
<rect x="402.4" y="496.5" width="32.20" height="2.70" fill="#ffc00a"/>
<rect x="402.4" y="498.5" width="32.20" height="2.20" fill="#ff9e0a"/>
<rect x="402.4" y="500" width="32.20" height="3.20" fill="#ff5e12"/>
<rect x="402.4" y="502.5" width="32.20" height="2.70" fill="#ff5010"/>
<rect x="402.4" y="504.5" width="32.20" height="12.20" fill="#ffffd8"/>
<rect x="402.4" y="516" width="32.20" height="3.70" fill="#ffff90"/>
<rect x="402.4" y="519" width="32.20" height="2.60" fill="#fff870"/>
<rect x="433.9" y="287.5" width="31.90" height="119.50" fill="#ffffdc"/>
<rect x="433.9" y="406.3" width="31.90" height="6.40" fill="#ffffa0"/>
<rect x="433.9" y="412" width="31.90" height="4.70" fill="#ffff88"/>
<rect x="433.9" y="416" width="31.90" height="4.70" fill="#ffffa8"/>
<rect x="433.9" y="420" width="31.90" height="4.70" fill="#fffa40"/>
<rect x="433.9" y="424" width="31.90" height="2.70" fill="#fff830"/>
<rect x="433.9" y="426" width="31.90" height="3.00" fill="#fffc58"/>
<rect x="433.9" y="428.3" width="31.90" height="5.40" fill="#ffffc0"/>
<rect x="433.9" y="433" width="31.90" height="4.70" fill="#ffffd4"/>
<rect x="433.9" y="437" width="31.90" height="2.70" fill="#ffffb0"/>
<rect x="433.9" y="439" width="31.90" height="3.70" fill="#ffffd0"/>
<rect x="433.9" y="442" width="31.90" height="3.70" fill="#ffffc0"/>
<rect x="433.9" y="445" width="31.90" height="3.70" fill="#fffc70"/>
<rect x="433.9" y="448" width="31.90" height="3.20" fill="#fff840"/>
<rect x="433.9" y="450.5" width="31.90" height="3.70" fill="#fffc60"/>
<rect x="433.9" y="453.5" width="31.90" height="9.20" fill="#ff2a0a"/>
<rect x="433.9" y="462" width="31.90" height="4.70" fill="#ff3a0c"/>
<rect x="433.9" y="466" width="31.90" height="4.70" fill="#ff2a0a"/>
<rect x="433.9" y="470" width="31.90" height="6.70" fill="#f81e08"/>
<rect x="433.9" y="476" width="31.90" height="6.70" fill="#ff3410"/>
<rect x="433.9" y="482" width="31.90" height="6.70" fill="#ff2a0a"/>
<rect x="433.9" y="488" width="31.90" height="4.20" fill="#ff3a0c"/>
<rect x="433.9" y="491.5" width="31.90" height="2.70" fill="#ffb00a"/>
<rect x="433.9" y="493.5" width="31.90" height="2.70" fill="#ffc40a"/>
<rect x="433.9" y="495.5" width="31.90" height="3.20" fill="#ff6212"/>
<rect x="433.9" y="498" width="31.90" height="3.70" fill="#ff5210"/>
<rect x="433.9" y="501" width="31.90" height="4.20" fill="#ff6a10"/>
<rect x="433.9" y="504.5" width="31.90" height="2.70" fill="#ffd80c"/>
<rect x="433.9" y="506.5" width="31.90" height="2.70" fill="#ffb80a"/>
<rect x="433.9" y="508.5" width="31.90" height="2.20" fill="#ffe010"/>
<rect x="433.9" y="510" width="31.90" height="2.70" fill="#ffc00a"/>
<rect x="433.9" y="512" width="31.90" height="2.70" fill="#ff7a0c"/>
<rect x="433.9" y="514" width="31.90" height="2.70" fill="#ff960a"/>
<rect x="433.9" y="516" width="31.90" height="2.70" fill="#ff6e0e"/>
<rect x="433.9" y="518" width="31.90" height="2.20" fill="#ff8a0a"/>
<rect x="433.9" y="519.5" width="31.90" height="2.10" fill="#ff700e"/>
<text transform="translate(329.45,527.20) rotate(-45)" font-size="7.7" text-anchor="end" font-weight="normal" fill="#2a2a2a" >Pro</text>
<text transform="translate(362.25,527.40) rotate(-45)" font-size="7.7" text-anchor="end" font-weight="normal" fill="#2a2a2a" >EB</text>
<text transform="translate(393.60,527.40) rotate(-45)" font-size="7.7" text-anchor="end" font-weight="normal" fill="#2a2a2a" >LB</text>
<text transform="translate(428.35,527.00) rotate(-45)" font-size="7.7" text-anchor="end" font-weight="normal" fill="#2a2a2a" >Poly</text>
<text transform="translate(455.15,527.10) rotate(-45)" font-size="7.7" text-anchor="end" font-weight="normal" fill="#2a2a2a" >Ortho</text>
<g stroke="#1c1c1c" stroke-width="1.05" fill="none">
<path d="M483.25 288.4V405.0"/>
<path d="M481.35 406.4V453.6"/>
<path d="M483.3 454.7V503.9"/>
<path d="M481.35 505.0V521.4"/>
</g>
<text transform="translate(485.70,351.00)" font-size="7.35" text-anchor="start" font-weight="normal" fill="#2a2a2a" >Group 1</text>
<text transform="translate(484.30,431.20)" font-size="7.35" text-anchor="start" font-weight="normal" fill="#2a2a2a" >Group 2</text>
<text transform="translate(485.60,482.50)" font-size="7.35" text-anchor="start" font-weight="normal" fill="#2a2a2a" >Group 3</text>
<text transform="translate(484.00,516.70)" font-size="7.35" text-anchor="start" font-weight="normal" fill="#2a2a2a" >Group 4</text>
<text transform="translate(469.30,393.80) rotate(90)" font-size="7.4" text-anchor="start" font-weight="normal" fill="#2a2a2a" >Introns</text>
<g stroke="#a4a4a4" stroke-width="0.55" fill="none">
<path d="M275.5 395.6V495M275.5 395.6H292.8M292.8 357.5V433.3M292.8 357.5H302.5M302.5 326.3V386.9H305.5M302.5 326.3H304.3V311.8M304.3 311.8H306V298M305.5 386.9V372M305.5 392V386.9"/>
<path d="M292.8 433.3H296M296 421.5V445M296 421.5H303.7M303.7 417.5V426M303.7 417.5H306M303.7 426H306M296 445H301.3M301.3 437.5V455M301.3 437.5H304.5V433M304.5 441V437.5M301.3 455H305"/>
<path d="M275.5 495H289.5M276.5 495V515.6H300.6M300.6 508.4V518.6M300.6 508.4H304V505.5M304 511V508.4M300.6 518.6H305"/>
<path d="M289.5 487.2V501.7M289.5 487.2H295.6M295.6 478.1V495.7M295.6 478.1H301.3M301.3 468.5V489M301.3 468.5H303.7M303.7 464.8V471.5M303.7 464.8H306M303.7 471.5H306M301.3 489H305M295.6 495.7H306M289.5 501.7H300.6M300.6 499.3V503M300.6 499.3H306M300.6 503H306"/>
</g>
<g stroke="#4a4a4a" stroke-width="0.6" fill="none" stroke-dasharray="1.4 0.7">
<path d="M307.2 288V521.5"/>
</g>
<rect x="0.5" y="0.5" width="519" height="545" fill="none" stroke="#111" stroke-width="1"/>
</svg>
</body></html>
